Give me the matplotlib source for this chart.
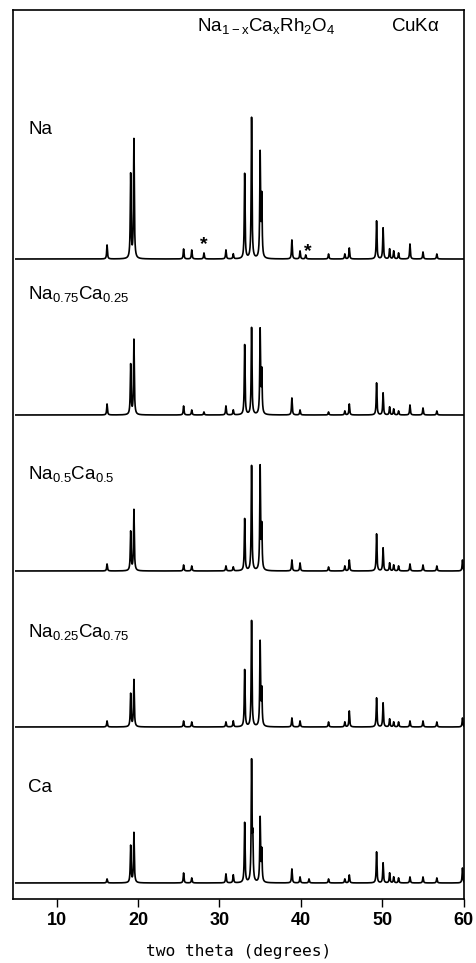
import numpy as np
import matplotlib.pyplot as plt

plt.rcParams["font.family"] = ["Liberation Sans", "DejaVu Sans"]
plt.rcParams["mathtext.default"] = "regular"

# peak positions (two theta, degrees) shared by all patterns
peak_pos = [16.2, 19.1, 19.5, 25.6, 26.6, 28.1, 30.8, 31.7, 33.1, 33.95, 34.1,
            35.0, 35.2, 38.9, 39.9, 40.6, 41.0, 43.4, 45.4, 45.95, 49.3, 50.1,
            50.9, 51.4, 52.0, 53.4, 55.0, 56.7, 59.85]

# peak intensities (arb. units), top to bottom
samples = ["Na", "Na$_{0.75}$Ca$_{0.25}$", "Na$_{0.5}$Ca$_{0.5}$",
           "Na$_{0.25}$Ca$_{0.75}$", "Ca"]
int_na = [14, 84, 119, 10, 9, 6, 9, 5, 85, 141, 0, 104, 60, 19, 8, 4, 0, 5, 5,
          11, 38, 31, 10, 8, 6, 15, 7, 5, 0]
int_na075 = [11, 50, 75, 9, 5, 3, 9, 5, 70, 87, 0, 84, 42, 17, 5, 0, 0, 3, 4,
             11, 32, 22, 8, 6, 4, 10, 7, 4, 0]
int_na05 = [7, 39, 61, 6, 5, 0, 5, 4, 52, 105, 0, 103, 42, 11, 8, 0, 0, 4, 5,
            11, 37, 23, 8, 6, 5, 7, 6, 5, 11]
int_na025 = [6, 33, 47, 6, 5, 0, 5, 6, 57, 106, 0, 84, 35, 9, 6, 0, 0, 5, 5,
             16, 29, 24, 8, 5, 5, 6, 6, 5, 9]
int_ca = [4, 37, 50, 10, 5, 0, 9, 8, 60, 119, 40, 64, 31, 14, 6, 0, 4, 4, 4,
          8, 31, 20, 10, 6, 5, 6, 6, 5, 15]
intensities = [int_na, int_na075, int_na05, int_na025, int_ca]

# impurity peaks marked with * in the Na pattern
impurity_pos = [28.1, 40.8]
impurity_h = [14, 7]

offset_step = 156.0
label_y = [125, 116, 92, 90, 91]
gamma = 0.055

tt = np.arange(5.0, 60.2, 0.01)


def profile(pos, amp):
    y = np.zeros_like(tt)
    for p, a in zip(pos, amp):
        y += a / (1.0 + ((tt - p) / gamma) ** 2)
    return y


fig = plt.figure(figsize=(4.76, 9.63), dpi=100)
ax = fig.add_axes([0.0273, 0.0665, 0.9477, 0.9231])

n = len(samples)
for i, (name, amp) in enumerate(zip(samples, intensities)):
    off = (n - 1 - i) * offset_step
    ax.plot(tt, profile(peak_pos, amp) + off, color="black", lw=1.2)
    ax.text(6.5, off + label_y[i], name, fontsize=13.5, ha="left", va="baseline")

for p, h in zip(impurity_pos, impurity_h):
    ax.text(p, (n - 1) * offset_step + h, "*", fontsize=14, fontweight="bold",
            ha="center", va="center")

ax.text(0.561, 0.982, "Na$_{1-x}$Ca$_x$Rh$_2$O$_4$", transform=ax.transAxes,
        fontsize=13.5, ha="center", va="center")
ax.text(0.893, 0.982, "CuK$\\alpha$", transform=ax.transAxes,
        fontsize=13.5, ha="center", va="center")

ax.set_xlim(4.65, 60.05)
ax.set_ylim(-16, 873)
ax.set_xticks([10, 20, 30, 40, 50, 60])
ax.set_yticks([])
ax.tick_params(axis="x", direction="out", length=5.5, width=1.0,
               labelsize=13, pad=4)
for t in ax.get_xticklabels():
    t.set_fontweight("bold")
ax.set_xlabel("two theta (degrees)", fontsize=11.7, family="DejaVu Sans Mono",
              labelpad=11)
for s in ax.spines.values():
    s.set_linewidth(1.2)

fig.savefig("out.png", dpi=100)
